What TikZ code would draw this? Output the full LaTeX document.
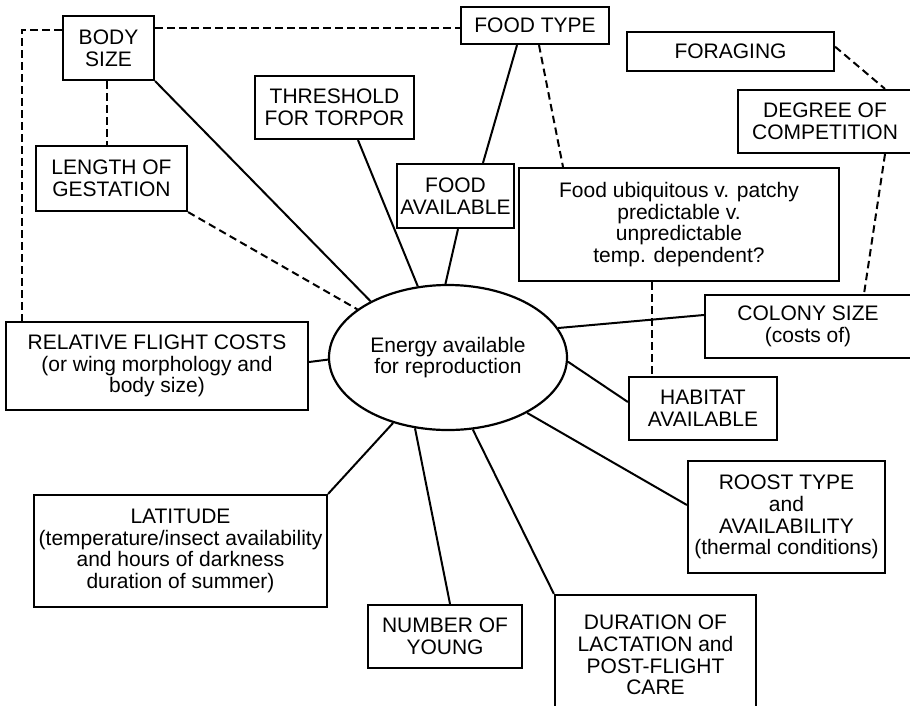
\documentclass[tikz,border=0pt]{standalone}
\usepackage{fontspec}
\setmainfont{Liberation Sans}
\usetikzlibrary{shapes.geometric}
\begin{document}
\begin{tikzpicture}[x=1pt,y=-1pt,
  box/.style={draw, line width=2.2pt, inner sep=0pt, align=center,
    font=\fontsize{21}{21.7}\selectfont},
  con/.style={line width=2pt},
  dsh/.style={line width=2pt, dash pattern=on 7.5pt off 4.5pt},
]
\clip (0,0) rectangle (910,705);
\fill[white] (0,0) rectangle (910,705);

\node[draw, line width=2.2pt, ellipse, minimum width=238pt, minimum height=145pt, inner sep=0pt, align=center,
  font=\fontsize{21}{21.7}\selectfont] (e) at (448,357.5) {Energy available\\for reproduction};

\node[box, minimum width=91pt, minimum height=64pt] (body) at (108.5,48) {BODY\\SIZE};
\node[box, minimum width=159pt, minimum height=63pt] (thr) at (334.5,107.5) {THRESHOLD\\FOR TORPOR};
\node[box, minimum width=117pt, minimum height=64pt] (fa) at (455.5,196) {FOOD\\AVAILABLE};
\node[box, minimum width=151pt, minimum height=65pt] (log) at (111.5,178.5) {LENGTH OF\\GESTATION};
\node[box, minimum width=302pt, minimum height=88pt] (rfc) at (157,366) {RELATIVE FLIGHT COSTS\\(or wing morphology and\\body size)};
\node[box, minimum width=148pt, minimum height=37pt] (ft) at (535,25.5) {FOOD TYPE};
\node[box, minimum width=207pt, minimum height=39pt] (fora) at (730.5,51.5) {FORAGING};
\node[box, minimum width=174pt, minimum height=63pt] (deg) at (825,121.5) {DEGREE OF\\COMPETITION};
\node[box, minimum width=320pt, minimum height=113pt] (ubi) at (679,224.5) {Food ubiquitous v. patchy\\predictable v.\\unpredictable\\temp. dependent?};
\node[box, minimum width=206pt, minimum height=63pt] (col) at (808,326.5) {COLONY SIZE\\(costs of)};
\node[box, minimum width=148pt, minimum height=63pt] (hab) at (703,408.5) {HABITAT\\AVAILABLE};
\node[box, minimum width=197pt, minimum height=112pt] (roost) at (786.5,517) {ROOST TYPE\\and\\AVAILABILITY\\(thermal conditions)};
\node[box, minimum width=201pt, minimum height=120pt] (dur) at (655.5,655) {DURATION OF\\LACTATION and\\POST-FLIGHT\\CARE};
\node[box, minimum width=154pt, minimum height=63pt] (num) at (445,636.5) {NUMBER OF\\YOUNG};
\node[box, minimum width=293pt, minimum height=112pt] (lat) at (180.5,551) {LATITUDE\\(temperature/insect availability\\and hours of darkness\\duration of summer)};

% solid connectors
\draw[con] (body.south east) -- (e.144.2);
\draw[con] ([xshift=23.5pt]thr.south) -- (e.113.1);
\draw[con] ([xshift=2.5pt]fa.south) -- (e.92.4);
\draw[con] ([xshift=-18pt]ft.south) -- ([xshift=27.5pt]fa.north);
\draw[con] (e.15) -- ([yshift=11.5pt]col.west);
\draw[con] (e.-2.2) -- ([yshift=6.5pt]hab.west);
\draw[con] (e.-35.1) -- ([yshift=12pt]roost.west);
\draw[con] (e.-71) -- (dur.north west);
\draw[con] (e.-115) -- ([xshift=5pt]num.north);
\draw[con] (e.-130.5) -- (lat.north east);
\draw[con] ([yshift=4pt]rfc.east) -- (e.181.7);

% dashed connectors
\draw[dsh] (log.south east) -- (e.152.2);
\draw[dsh] ([yshift=18pt]body.west) -| ([xshift=-135pt]rfc.north);
\draw[dsh] ([yshift=19.7pt]body.east) -- ([yshift=-2.8pt]ft.west);
\draw[dsh] ([xshift=-1.5pt]body.south) -- ([xshift=-4.5pt]log.north);
\draw[dsh] ([xshift=4pt]ft.south) -- ([xshift=-116pt]ubi.north);
\draw[dsh] ([yshift=4.8pt]fora.east) -- ([xshift=60pt]deg.north);
\draw[dsh] ([xshift=60pt]deg.south) -- ([xshift=56pt]col.north);
\draw[dsh] ([xshift=-27pt]ubi.south) -- ([xshift=-51pt]hab.north);
\end{tikzpicture}
\end{document}
